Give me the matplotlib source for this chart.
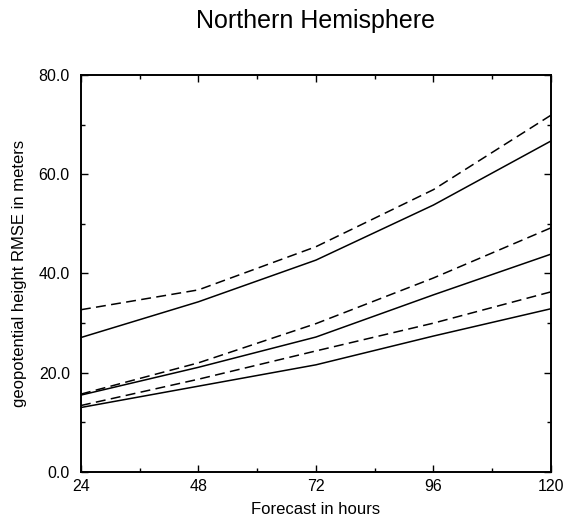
import matplotlib
matplotlib.use("Agg")
import matplotlib.pyplot as plt
from matplotlib.ticker import MultipleLocator, FormatStrFormatter

plt.rcParams["font.family"] = ["Liberation Sans", "DejaVu Sans"]

hours = [24, 48, 72, 96, 120]

# three pairs: solid and dashed
solid_top = [27.1, 34.3, 42.7, 53.8, 66.7]
dashed_top = [32.7, 36.7, 45.4, 56.9, 71.9]
solid_mid = [15.5, 21.1, 27.2, 35.7, 43.9]
dashed_mid = [15.7, 22.0, 29.9, 39.1, 49.2]
solid_low = [13.0, 17.3, 21.6, 27.4, 32.9]
dashed_low = [13.4, 18.7, 24.4, 30.0, 36.3]

fig = plt.figure(figsize=(5.66, 5.17), dpi=100)
ax = fig.add_axes([0.143, 0.087, 0.8305, 0.768])

for s in [solid_top, solid_mid, solid_low]:
    ax.plot(hours, s, color="black", lw=1.1)
for d in [dashed_top, dashed_mid, dashed_low]:
    ax.plot(hours, d, color="black", lw=1.1, dashes=(6.5, 3.5))

ax.set_xlim(24, 120)
ax.set_ylim(0, 80)
ax.xaxis.set_major_locator(MultipleLocator(24))
ax.xaxis.set_minor_locator(MultipleLocator(12))
ax.yaxis.set_major_locator(MultipleLocator(20))
ax.yaxis.set_minor_locator(MultipleLocator(10))
ax.yaxis.set_major_formatter(FormatStrFormatter("%.1f"))
ax.tick_params(which="both", direction="in", top=True, right=True, labelsize=11.5, width=1)
ax.tick_params(which="major", length=5)
ax.tick_params(which="minor", length=3)
ax.tick_params(axis="x", pad=5)
ax.tick_params(axis="y", pad=8)
for sp in ax.spines.values():
    sp.set_linewidth(1.4)

ax.set_xlabel("Forecast in hours", fontsize=12, va="baseline")
ax.xaxis.set_label_coords(0.5, -0.106)
ax.set_ylabel("geopotential height RMSE in meters", fontsize=12, va="center")
ax.yaxis.set_label_coords(-0.13, 0.5)
ax.set_title("Northern Hemisphere", fontsize=18, pad=33.6, va="baseline")

fig.savefig("out.png", dpi=100)
